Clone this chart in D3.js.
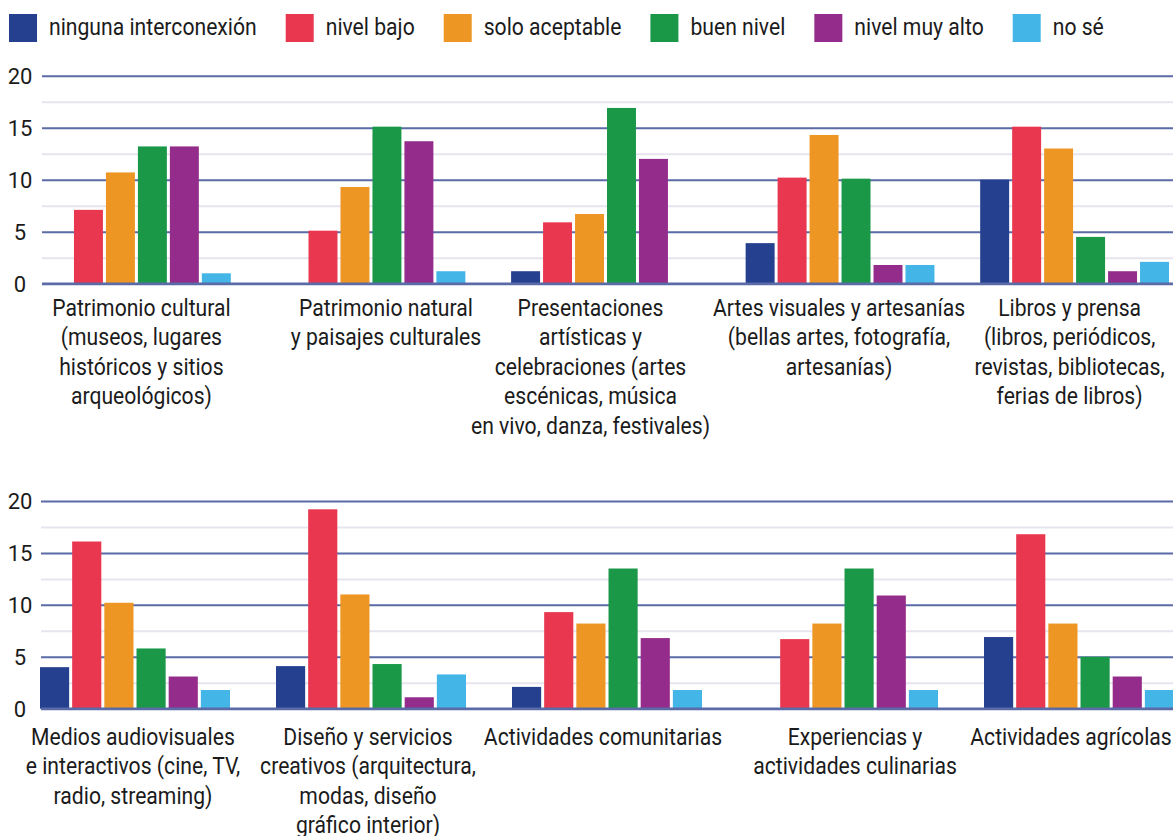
<!DOCTYPE html>
<html lang="es">
<head>
<meta charset="utf-8">
<script src="https://cdn.jsdelivr.net/npm/d3@7"></script>
<style>
  html, body { margin: 0; padding: 0; background: #ffffff; }
  svg { display: block; font-family: Roboto, "Noto Sans", sans-serif; }
</style>
</head>
<body>
<svg id="chart" width="1173" height="836"></svg>
<script>
// ---- Data ---------------------------------------------------------------
const seriesNames = ["ninguna interconexión", "nivel bajo", "solo aceptable", "buen nivel", "nivel muy alto", "no sé"];
const seriesColors = ["#24408e", "#e9374f", "#ee9623", "#1a9848", "#932c8b", "#43b5e7"];

// Category labels, one array of lines per category
const categoriesTop = [
  ["Patrimonio cultural", "(museos, lugares", "históricos y sitios", "arqueológicos)"],
  ["Patrimonio natural", "y paisajes culturales"],
  ["Presentaciones", "artísticas y", "celebraciones (artes", "escénicas, música", "en vivo, danza, festivales)"],
  ["Artes visuales y artesanías", "(bellas artes, fotografía,", "artesanías)"],
  ["Libros y prensa", "(libros, periódicos,", "revistas, bibliotecas,", "ferias de libros)"]
];
const categoriesBottom = [
  ["Medios audiovisuales", "e interactivos (cine, TV,", "radio, streaming)"],
  ["Diseño y servicios", "creativos (arquitectura,", "modas, diseño", "gráfico interior)"],
  ["Actividades comunitarias"],
  ["Experiencias y", "actividades culinarias"],
  ["Actividades agrícolas"]
];

// One value per category (top row first, then bottom row)
const ningunaInterconexion = [0, 0, 1.2, 3.9, 10.0, 4.0, 4.1, 2.1, 0, 6.9];
const nivelBajo            = [7.1, 5.1, 5.9, 10.2, 15.1, 16.1, 19.2, 9.3, 6.7, 16.8];
const soloAceptable        = [10.7, 9.3, 6.7, 14.3, 13.0, 10.2, 11.0, 8.2, 8.2, 8.2];
const buenNivel            = [13.2, 15.1, 16.9, 10.1, 4.5, 5.8, 4.3, 13.5, 13.5, 5.0];
const nivelMuyAlto         = [13.2, 13.7, 12.0, 1.8, 1.2, 3.1, 1.1, 6.8, 10.9, 3.1];
const noSe                 = [1.0, 1.2, 0, 1.8, 2.1, 1.8, 3.3, 1.8, 1.8, 1.8];

const majorTicks = [0, 5, 10, 15, 20];
const minorTicks = [2.5, 7.5, 12.5, 17.5];

// ---- Layout -------------------------------------------------------------
const W = 1173, H = 836;
const textColor = "#1b1b1b";
const gridMajor = "#5a6ba8";
const gridMinor = "#e6e5ef";
const squeeze = 0.92;          // horizontal condensation of the label face
const labelSize = 23;
const lineGap = 29.4;

const seriesValues = [ningunaInterconexion, nivelBajo, soloAceptable, buenNivel, nivelMuyAlto, noSe];

const panels = [
  { cats: categoriesTop, offset: 0, top: 75.7, base: 283.7, left: 42, bandRange: [42, 1169],
    labelY: 316, nudge: [5, 15, -15, -1, -5] },
  { cats: categoriesBottom, offset: 5, top: 501, base: 708.7, left: 41, bandRange: [40, 1174],
    labelY: 745, nudge: [-2, -3, -4, 12, -8] }
];

const svg = d3.select("#chart");

// ---- Legend -------------------------------------------------------------
const legend = svg.append("g").attr("class", "legend");
let lx = 9;
seriesNames.forEach((name, i) => {
  legend.append("rect")
    .attr("x", lx).attr("y", 14)
    .attr("width", 28).attr("height", 28)
    .attr("fill", seriesColors[i]);
  const t = legend.append("text")
    .attr("transform", `translate(${lx + 40},35) scale(${squeeze},1)`)
    .attr("font-size", labelSize)
    .attr("fill", textColor)
    .text(name);
  lx += 40 + t.node().getComputedTextLength() * squeeze + 29;
});

// ---- Panels -------------------------------------------------------------
panels.forEach(p => {
  const g = svg.append("g");
  const y = d3.scaleLinear().domain([0, 20]).range([p.base, p.top]);
  const x0 = d3.scaleBand().domain(d3.range(p.cats.length)).range(p.bandRange)
    .paddingInner(0.195).paddingOuter(0);
  const x1 = d3.scaleBand().domain(d3.range(seriesNames.length)).range([0, x0.bandwidth()])
    .paddingInner(0.094).paddingOuter(0);
  const gridW = W - p.left;

  // minor gridlines
  const minorAxis = g.append("g")
    .attr("transform", `translate(${p.left},0)`)
    .call(d3.axisLeft(y).tickValues(minorTicks).tickSize(-gridW).tickFormat(""));
  minorAxis.select(".domain").remove();
  minorAxis.selectAll(".tick line").attr("stroke", gridMinor).attr("stroke-width", 2);

  // major gridlines and value labels
  const majorAxis = g.append("g")
    .attr("transform", `translate(${p.left},0)`)
    .call(d3.axisLeft(y).tickValues(majorTicks).tickSize(-gridW).tickPadding(0));
  majorAxis.select(".domain").remove();
  majorAxis.selectAll(".tick line")
    .attr("stroke", gridMajor).attr("stroke-width", 2);
  majorAxis.selectAll(".tick text")
    .attr("x", 20 - p.left)
    .attr("dy", "0.35em")
    .attr("text-anchor", "middle")
    .attr("font-size", 22)
    .attr("font-family", "Roboto, sans-serif")
    .attr("fill", textColor);

  // bars
  p.cats.forEach((cat, ci) => {
    const gi = ci + p.offset;
    const grp = g.append("g").attr("transform", `translate(${x0(ci)},0)`);
    grp.selectAll("rect")
      .data(seriesValues.map((vals, si) => ({ si, v: vals[gi] })).filter(d => d.v > 0))
      .join("rect")
      .attr("x", d => x1(d.si))
      .attr("width", x1.bandwidth())
      .attr("y", d => y(d.v))
      .attr("height", d => y(0) - y(d.v))
      .attr("fill", d => seriesColors[d.si]);

    // category label
    const cx = x0(ci) + x0.bandwidth() / 2 + p.nudge[ci];
    const lab = g.append("g")
      .attr("transform", `translate(${cx},${p.labelY}) scale(${squeeze},1)`);
    lab.selectAll("text").data(cat).join("text")
      .attr("x", 0)
      .attr("y", (d, i) => i * lineGap)
      .attr("text-anchor", "middle")
      .attr("font-size", labelSize)
      .attr("fill", textColor)
      .text(d => d);
  });

  // zero line on top of the bars
  g.append("line")
    .attr("x1", p.left).attr("x2", W)
    .attr("y1", y(0)).attr("y2", y(0))
    .attr("stroke", gridMajor).attr("stroke-width", 2.5);
});
</script>
</body>
</html>
